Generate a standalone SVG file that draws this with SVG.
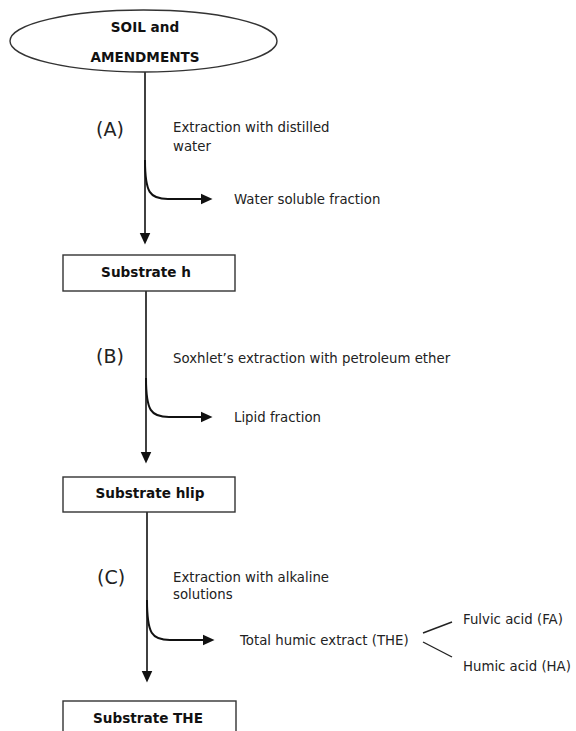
<svg xmlns="http://www.w3.org/2000/svg" width="576" height="731" viewBox="0 0 576 731">
<style>
.bg{fill:#ffffff}
.box{fill:#ffffff;stroke:#333333;stroke-width:1.4}
.bt{font-family:"DejaVu Sans","Verdana",sans-serif;font-weight:bold;font-size:13.6px;fill:#111111;text-anchor:middle}
.t{font-family:"DejaVu Sans","Verdana",sans-serif;font-size:13.3px;fill:#222222}
.lab{font-family:"DejaVu Sans","Verdana",sans-serif;font-size:19px;fill:#222222}
.ln{fill:none;stroke:#111111;stroke-width:1.6}
.cv{fill:none;stroke:#111111;stroke-width:2}
.thin{fill:none;stroke:#222222;stroke-width:1.4}
</style>
<defs>
<marker id="ah" markerUnits="userSpaceOnUse" markerWidth="14" markerHeight="12" viewBox="0 -6 14 12" refX="0.5" refY="0" orient="auto">
<path d="M0,-5.5 L12,0 L0,5.5 Z" fill="#111111"/>
</marker>
</defs>
<rect class="bg" x="0" y="0" width="576" height="731"/>

<g id="connectors">
<line class="ln" x1="145" y1="72" x2="145" y2="233" marker-end="url(#ah)"/>
<path class="cv" d="M145,160 C145,193 150,199 168,199 L201,199" marker-end="url(#ah)"/>
<line class="ln" x1="146" y1="291" x2="146" y2="452" marker-end="url(#ah)"/>
<path class="cv" d="M146,378 C146,411 151,417 169,417 L201,417" marker-end="url(#ah)"/>
<line class="ln" x1="147" y1="512" x2="147" y2="671" marker-end="url(#ah)"/>
<path class="cv" d="M147,600 C147,634 152,640 170,640 L203,640" marker-end="url(#ah)"/>
<line class="thin" x1="423" y1="633" x2="452" y2="622"/>
<line class="thin" x1="423" y1="642" x2="452" y2="657"/>
</g>

<g id="node-soil">
<ellipse class="box" cx="143.5" cy="41" rx="133.5" ry="31"/>
<text class="bt" x="145" y="32">SOIL and</text>
<text class="bt" x="145" y="62">AMENDMENTS</text>
</g>

<g id="label-a">
<text class="lab" x="96" y="136">(A)</text>
<text class="t" x="173" y="132">Extraction with distilled</text>
<text class="t" x="173" y="151">water</text>
<text class="t" x="234" y="204">Water soluble fraction</text>
</g>

<g id="node-substrate-h">
<rect class="box" x="63" y="255" width="172" height="36"/>
<text class="bt" x="146" y="277">Substrate h</text>
</g>

<g id="label-b">
<text class="lab" x="96" y="363">(B)</text>
<text class="t" x="173" y="363">Soxhlet’s extraction with petroleum ether</text>
<text class="t" x="234" y="422">Lipid fraction</text>
</g>

<g id="node-substrate-hlip">
<rect class="box" x="63" y="477" width="172" height="35"/>
<text class="bt" x="150" y="498">Substrate hlip</text>
</g>

<g id="label-c">
<text class="lab" x="97" y="584">(C)</text>
<text class="t" x="173" y="582">Extraction with alkaline</text>
<text class="t" x="173" y="599">solutions</text>
</g>

<g id="node-the-extract">
<text class="t" x="240" y="645">Total humic extract (THE)</text>
</g>
<g id="node-fa">
<text class="t" x="463" y="624">Fulvic acid (FA)</text>
</g>
<g id="node-ha">
<text class="t" x="463" y="671">Humic acid (HA)</text>
</g>

<g id="node-substrate-the">
<rect class="box" x="63" y="701" width="173" height="40"/>
<text class="bt" x="148" y="723">Substrate THE</text>
</g>
</svg>
